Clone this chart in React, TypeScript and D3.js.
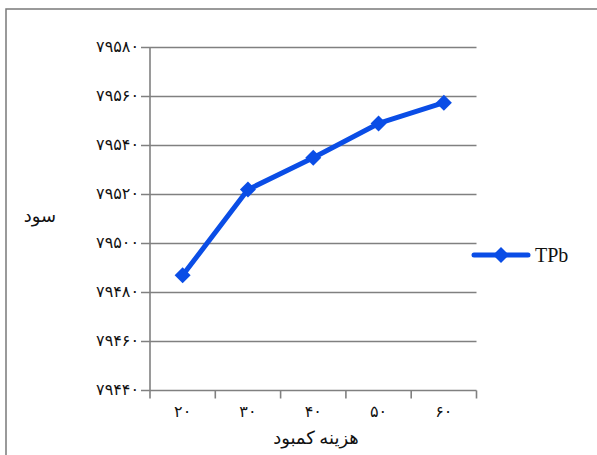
import React from "react";
import * as d3 from "d3";

const categories = [20, 30, 40, 50, 60];
const tpbValues = [79487, 79522, 79535, 79549, 79557.5];
const yTicks = [79440, 79460, 79480, 79500, 79520, 79540, 79560, 79580];
const seriesName = "TPb";
const xTitle = "هزینه کمبود";
const yTitle = "سود";

const faDigits = "۰۱۲۳۴۵۶۷۸۹";
const toFa = (n: number) => String(n).replace(/[0-9]/g, (d) => faDigits[+d]);

const W = 597, H = 455;
const left = 150, right = 476.5, top = 47.5, bottom = 390.5;
const blue = "#0a4de6";
const grid = "#808080";
const font = "'Liberation Serif', 'DejaVu Sans', serif";

export default function App() {
  const x = d3.scaleBand<number>().domain(categories).range([left, right]).padding(0);
  const y = d3.scaleLinear().domain([79440, 79580]).range([bottom, top]);
  const pts: [number, number][] = categories.map((c, i) => [x(c)! + x.bandwidth() / 2, y(tpbValues[i])]);
  const line = d3.line<[number, number]>()(pts) || "";
  const diamond = (cx: number, cy: number, r: number) =>
    `M${cx},${cy - r}L${cx + r},${cy}L${cx},${cy + r}L${cx - r},${cy}Z`;
  const legY = 255;
  return (
    <svg width={W} height={H} style={{ position: "absolute", left: 0, top: 0, background: "#fff" }}>
      <rect x={6} y={9} width={620} height={480} fill="#fff" stroke="#7a7a7a" strokeWidth={1.5} />
      {yTicks.map((t) => (
        <g key={t}>
          <line x1={left - 9} x2={right} y1={y(t)} y2={y(t)} stroke={grid} strokeWidth={1.6} />
          <text x={left - 11} y={y(t)} dy="0.3em" textAnchor="end" fontFamily={font} fontSize={16} fill="#111">
            {toFa(t)}
          </text>
        </g>
      ))}
      <line x1={left} x2={left} y1={top} y2={bottom} stroke={grid} strokeWidth={1.6} />
      {[...categories.map((c) => x(c)!), right].map((px, i) => (
        <line key={i} x1={px} x2={px} y1={bottom} y2={bottom + 8} stroke={grid} strokeWidth={1.6} />
      ))}
      {categories.map((c) => (
        <text key={c} x={x(c)! + x.bandwidth() / 2} y={412} dy="0.3em" textAnchor="middle" fontFamily={font} fontSize={16} fill="#111">
          {toFa(c)}
        </text>
      ))}
      <text x={316} y={439} dy="0.3em" textAnchor="middle" fontFamily={font} fontSize={18} fill="#111">{xTitle}</text>
      <text x={40} y={217} dy="0.3em" textAnchor="middle" fontFamily={font} fontSize={18} fill="#111">{yTitle}</text>
      <path d={line} fill="none" stroke={blue} strokeWidth={5} strokeLinejoin="round" />
      {pts.map(([px, py], i) => (
        <path key={i} d={diamond(px, py, 8)} fill={blue} />
      ))}
      <line x1={474} x2={528} y1={legY} y2={legY} stroke={blue} strokeWidth={5} strokeLinecap="round" />
      <path d={diamond(501, legY, 8)} fill={blue} />
      <text x={535} y={legY} dy="0.33em" fontFamily={font} fontSize={20} fill="#111">{seriesName}</text>
    </svg>
  );
}
